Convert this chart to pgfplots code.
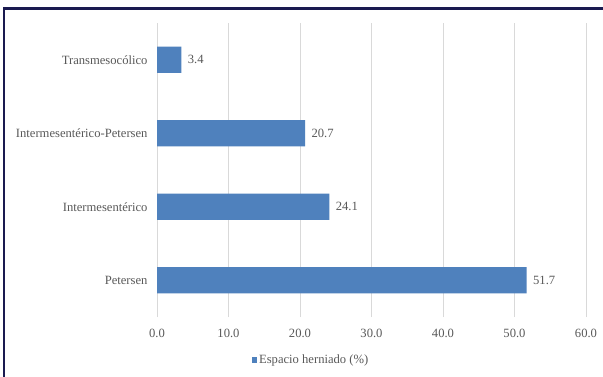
\documentclass[border=0pt]{standalone}
\usepackage{fontspec}
\setmainfont{Liberation Serif}
\newfontfamily\tnr{Liberation Serif}
\usepackage{pgfplots}
\pgfplotsset{compat=1.18}
\definecolor{barblue}{RGB}{79,129,189}
\definecolor{txtgray}{RGB}{89,89,89}
\definecolor{gridgray}{RGB}{217,217,217}
\definecolor{framenavy}{RGB}{26,26,80}
\begin{document}
\begin{tikzpicture}[font=\tnr\fontsize{12.6bp}{15bp}\selectfont]
\useasboundingbox (0,0) rectangle (603bp,377bp);
\fill[white] (0,0) rectangle (603bp,377bp);
\draw[framenavy, line width=2.6bp] (4bp,0) -- (4bp,368.3bp) -- (603bp,368.3bp);
\begin{axis}[
  at={(157bp,60bp)}, anchor=south west,
  scale only axis, width=429bp, height=294bp,
  xbar, bar width=26bp,
  xmin=0, xmax=60, ymin=-0.5, ymax=3.5,
  xtick={0,10,...,60},
  ytick={0,1,2,3},
  yticklabels={Petersen,Intermesentérico,Intermesentérico-Petersen,Transmesocólico},
  xmajorgrids, major grid style={gridgray, line width=0.9bp},
  axis line style={draw=none}, major tick length=0pt,
  /pgf/number format/assume math mode=true,
  ticklabel style={font=\tnr\fontsize{12.6bp}{15bp}\selectfont},
  xticklabel style={text=txtgray, yshift=-9bp, /pgf/number format/.cd, fixed, fixed zerofill, precision=1},
  yticklabel style={text=txtgray, xshift=-6bp},
  nodes near coords,
  nodes near coords style={font=\tnr\fontsize{12.6bp}{15bp}\selectfont, text=txtgray, anchor=west, xshift=3bp, /pgf/number format/.cd, fixed, fixed zerofill, precision=1},
  legend style={at={(0.359,-0.146)}, anchor=center, draw=none, fill=none, text=txtgray, font=\tnr\fontsize{12.6bp}{15bp}\selectfont, inner sep=0pt},
  legend image code/.code={\fill[barblue] (0bp,-2.7bp) rectangle (5.4bp,2.7bp);},
  legend cell align=left,
]
\addplot[fill=barblue, draw=none] coordinates {(51.7,0) (24.1,1) (20.7,2) (3.4,3)};
\addlegendentry{Espacio herniado (\%)}
\end{axis}
\end{tikzpicture}
\end{document}
